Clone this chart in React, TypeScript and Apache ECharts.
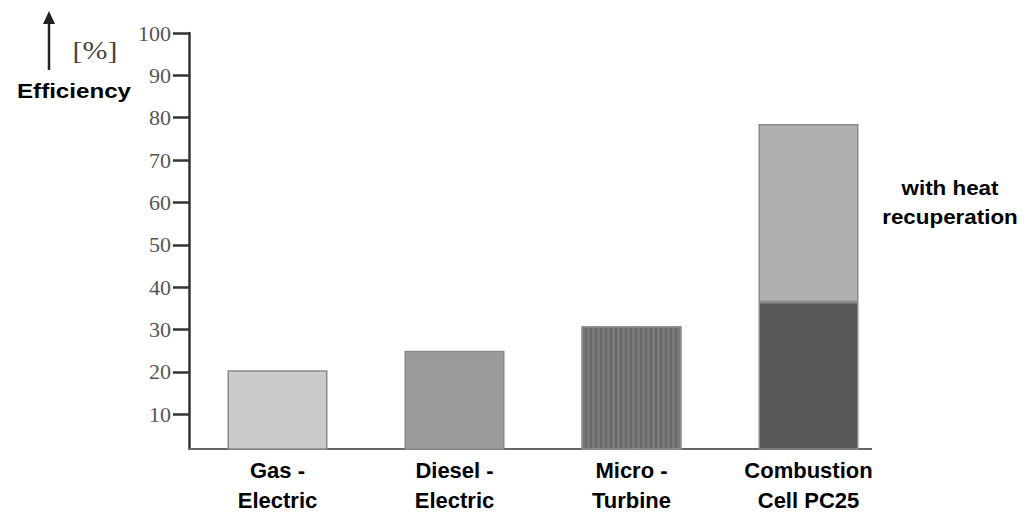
import React, { useEffect, useRef } from "react";
import * as echarts from "echarts";

const categories = ["Gas -\nElectric", "Diesel -\nElectric", "Micro -\nTurbine", "Combustion\nCell PC25"];
const baseValues = [20.4, 25, 30.8, 36.5];
const recuperationValues = [null, null, null, 42];
const baseColors = ["#cbcbcb", "#9a9a9a", "#787878", "#575757"];
const tickValues = [10, 20, 30, 40, 50, 60, 70, 80, 90, 100];

export default function App() {
  const ref = useRef<HTMLDivElement>(null);
  useEffect(() => {
    const chart = echarts.init(ref.current!, null, { renderer: "svg" });
    const option: any = {
      animation: false,
      backgroundColor: "#ffffff",
      grid: { left: 189, top: 33, width: 708, height: 416, containLabel: false, outerBoundsMode: "none" },
      xAxis: {
        type: "category",
        data: categories,
        axisLine: { show: false },
        axisTick: { show: false },
        axisLabel: {
          margin: 7,
          fontFamily: "Liberation Sans, Arial, sans-serif",
          fontWeight: "bold",
          fontSize: 22,
          lineHeight: 29.5,
          color: "#000",
        },
      },
      yAxis: {
        type: "value",
        min: 1.8,
        max: 100,
        splitLine: { show: false },
        axisLine: { show: true, lineStyle: { color: "#333", width: 2.5 } },
        axisTick: {
          show: true,
          inside: false,
          length: 16,
          customValues: tickValues,
          lineStyle: { color: "#333", width: 2.5 },
        },
        axisLabel: {
          customValues: tickValues,
          margin: 18,
          fontFamily: "Liberation Serif, Times New Roman, serif",
          fontSize: 22,
          color: "#555",
          verticalAlign: "middle",
          padding: [0, 0, 5, 0],
        },
      },
      series: [
        {
          type: "bar",
          stack: "eff",
          barWidth: 100,
          data: baseValues.map((v, i) => ({
            value: v,
            itemStyle: {
              color: baseColors[i],
              borderColor: "#8a8a8a",
              borderWidth: 1.5,
              decal:
                i === 2
                  ? {
                      symbol: "rect",
                      symbolSize: 1,
                      dashArrayX: [[2, 3]],
                      dashArrayY: [10, 0],
                      color: "rgba(0,0,0,0.14)",
                    }
                  : undefined,
            },
          })),
        },
        {
          type: "bar",
          stack: "eff",
          barWidth: 100,
          data: recuperationValues,
          itemStyle: { color: "#b0b0b0", borderColor: "#8a8a8a", borderWidth: 1.5 },
        },
      ],
      graphic: [
        {
          type: "line",
          shape: { x1: 189, y1: 449, x2: 872, y2: 449 },
          style: { stroke: "#666", lineWidth: 2 },
          z: 1,
        },
        {
          type: "line",
          shape: { x1: 49, y1: 70, x2: 49, y2: 20 },
          style: { stroke: "#222", lineWidth: 2.5 },
        },
        {
          type: "polygon",
          shape: { points: [[43, 24], [49, 11], [55, 24]] },
          style: { fill: "#222" },
        },
        {
          type: "text",
          x: 95,
          y: 50,
          scaleX: 1.15,
          style: {
            text: "[%]",
            font: "26px Liberation Serif, Times New Roman, serif",
            fill: "#444",
            align: "center",
            verticalAlign: "middle",
          },
        },
        {
          type: "text",
          x: 74,
          y: 91,
          scaleX: 1.15,
          style: {
            text: "Efficiency",
            font: "bold 21px Liberation Sans, Arial, sans-serif",
            fill: "#000",
            align: "center",
            verticalAlign: "middle",
          },
        },
        {
          type: "text",
          x: 950,
          y: 188,
          scaleX: 1.12,
          style: {
            text: "with heat",
            font: "bold 20px Liberation Sans, Arial, sans-serif",
            fill: "#000",
            align: "center",
            verticalAlign: "middle",
          },
        },
        {
          type: "text",
          x: 950,
          y: 217,
          scaleX: 1.12,
          style: {
            text: "recuperation",
            font: "bold 20px Liberation Sans, Arial, sans-serif",
            fill: "#000",
            align: "center",
            verticalAlign: "middle",
          },
        },
      ],
    };
    chart.setOption(option);
    return () => chart.dispose();
  }, []);
  return (
    <div
      ref={ref}
      style={{ position: "fixed", left: 0, top: 0, width: 1026, height: 515 }}
    />
  );
}
